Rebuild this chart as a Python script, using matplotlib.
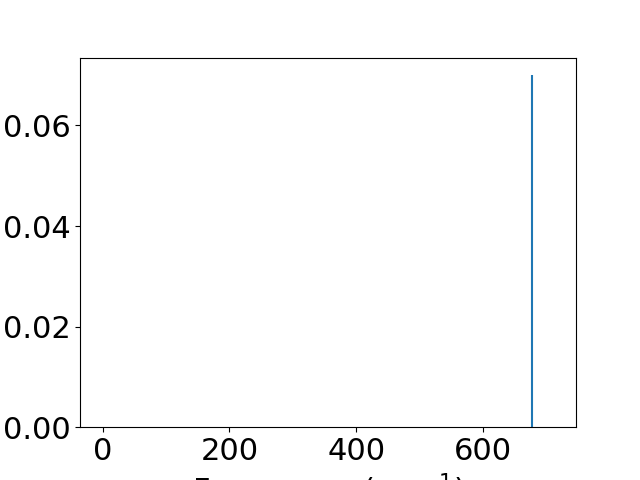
import matplotlib
matplotlib.use("Agg")
from matplotlib import pyplot as plt

# stick spectrum: only one mode carries intensity
freqs = [0, 677, 711]
intensity = [0.0, 0.07, 0.0]

plt.rcParams["font.size"] = 22

fig, ax = plt.subplots(figsize=(6.4, 4.8), dpi=100)
ax.vlines(freqs, 0, intensity, color="C0")
ax.set_ylim(bottom=0)
ax.set_xlabel("Frequency (cm$^{-1}$)")

fig.savefig("out.png")
